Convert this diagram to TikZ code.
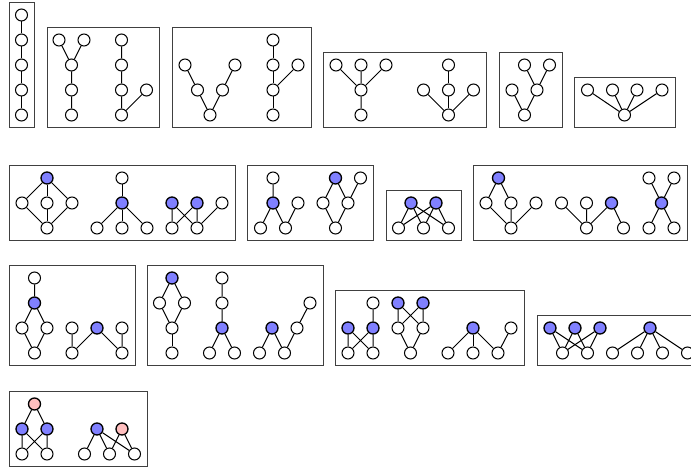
\documentclass[tikz,border=0pt]{standalone}
\begin{document}
\begin{tikzpicture}[x=0.5pt, y=-0.5pt, line width=0.5pt,
    vtx/.style={circle, draw, fill=white, inner sep=0pt, minimum size=6pt},
    bvtx/.style={vtx, fill=blue!50, line width=0.65pt},
    pvtx/.style={vtx, fill=red!25, line width=0.65pt},
    frame/.style={draw=black!75}]
    \useasboundingbox (0,0) rectangle (691,470);

    \draw[frame] (9,2.5) rectangle (34,127.5);
    \node[vtx] (a1) at (21.5,15) {};
    \node[vtx] (a2) at (21.5,40) {};
    \node[vtx] (a3) at (21.5,65) {};
    \node[vtx] (a4) at (21.5,90) {};
    \node[vtx] (a5) at (21.5,115) {};
    \draw (a1)--(a2)--(a3)--(a4)--(a5);

    \draw[frame] (47,27.5) rectangle (159,127.5);
    \node[vtx] (b1) at (59,40) {};
    \node[vtx] (b2) at (84,40) {};
    \node[vtx] (b3) at (71.5,65) {};
    \node[vtx] (b4) at (71.5,90) {};
    \node[vtx] (b5) at (71.5,115) {};
    \draw (b1)--(b3)--(b4)--(b5);
    \draw (b2)--(b3);
    \node[vtx] (b6) at (121.5,40) {};
    \node[vtx] (b7) at (121.5,65) {};
    \node[vtx] (b8) at (121.5,90) {};
    \node[vtx] (b9) at (121.5,115) {};
    \node[vtx] (b10) at (146.5,90) {};
    \draw (b6)--(b7)--(b8)--(b9)--(b10);

    \draw[frame] (172.5,27.5) rectangle (311,127.5);
    \node[vtx] (c1) at (185,65) {};
    \node[vtx] (c2) at (197.5,90) {};
    \node[vtx] (c3) at (210,115) {};
    \node[vtx] (c4) at (222.5,90) {};
    \node[vtx] (c5) at (235,65) {};
    \draw (c1)--(c2)--(c3)--(c4)--(c5);
    \node[vtx] (c6) at (273,40) {};
    \node[vtx] (c7) at (273,65) {};
    \node[vtx] (c8) at (273,90) {};
    \node[vtx] (c9) at (273,115) {};
    \node[vtx] (c10) at (298,65) {};
    \draw (c6)--(c7)--(c8)--(c9);
    \draw (c8)--(c10);

    \draw[frame] (323.5,52.5) rectangle (486.5,127.5);
    \node[vtx] (d1) at (336,65) {};
    \node[vtx] (d2) at (361,65) {};
    \node[vtx] (d3) at (386,65) {};
    \node[vtx] (d4) at (361,90) {};
    \node[vtx] (d5) at (361,115) {};
    \draw (d1)--(d4)--(d5);
    \draw (d2)--(d4)--(d3);
    \node[vtx] (d6) at (448.5,65) {};
    \node[vtx] (d7) at (423.5,90) {};
    \node[vtx] (d8) at (448.5,90) {};
    \node[vtx] (d9) at (473.5,90) {};
    \node[vtx] (d10) at (448.5,115) {};
    \draw (d6)--(d8)--(d10);
    \draw (d7)--(d10)--(d9);

    \draw[frame] (499.5,52.5) rectangle (562.5,127.5);
    \node[vtx] (e1) at (524.5,65) {};
    \node[vtx] (e2) at (549.5,65) {};
    \node[vtx] (e3) at (512,90) {};
    \node[vtx] (e4) at (537,90) {};
    \node[vtx] (e5) at (524.5,115) {};
    \draw (e1)--(e4)--(e2);
    \draw (e3)--(e5)--(e4);

    \draw[frame] (574.5,77.5) rectangle (675,127.5);
    \node[vtx] (f1) at (587.5,90) {};
    \node[vtx] (f2) at (612.5,90) {};
    \node[vtx] (f3) at (637,90) {};
    \node[vtx] (f4) at (662,90) {};
    \node[vtx] (f5) at (624.5,115) {};
    \draw (f1)--(f5)--(f2);
    \draw (f3)--(f5)--(f4);

    \draw[frame] (9,165.5) rectangle (235,240.5);
    \node[bvtx] (g1) at (47,178) {};
    \node[vtx] (g2) at (22,203) {};
    \node[vtx] (g3) at (47,203) {};
    \node[vtx] (g4) at (72,203) {};
    \node[vtx] (g5) at (47,228) {};
    \draw (g1)--(g2)--(g5)--(g4)--(g1);
    \draw (g1)--(g3)--(g5);
    \node[vtx] (g6) at (122,178) {};
    \node[bvtx] (g7) at (122,203) {};
    \node[vtx] (g8) at (97,228) {};
    \node[vtx] (g9) at (122,228) {};
    \node[vtx] (g10) at (147,228) {};
    \draw (g6)--(g7)--(g9);
    \draw (g8)--(g7)--(g10);
    \node[bvtx] (g11) at (172,203) {};
    \node[bvtx] (g12) at (197,203) {};
    \node[vtx] (g13) at (222,203) {};
    \node[vtx] (g14) at (172,228) {};
    \node[vtx] (g15) at (197,228) {};
    \draw (g11)--(g14)--(g12)--(g15)--(g11);
    \draw (g13)--(g15);

    \draw[frame] (247.5,165.5) rectangle (373.5,240.5);
    \node[vtx] (h1) at (273,178) {};
    \node[bvtx] (h2) at (273,203) {};
    \node[vtx] (h3) at (298,203) {};
    \node[vtx] (h4) at (260.5,228) {};
    \node[vtx] (h5) at (285.5,228) {};
    \draw (h1)--(h2)--(h4);
    \draw (h2)--(h5)--(h3);
    \node[bvtx] (h6) at (335.5,178) {};
    \node[vtx] (h7) at (360.5,178) {};
    \node[vtx] (h8) at (323,203) {};
    \node[vtx] (h9) at (348,203) {};
    \node[vtx] (h10) at (335.5,228) {};
    \draw (h6)--(h8)--(h10)--(h9)--(h6);
    \draw (h7)--(h9);

    \draw[frame] (386,190.5) rectangle (461.5,240.5);
    \node[bvtx] (i1) at (411,203) {};
    \node[bvtx] (i2) at (436,203) {};
    \node[vtx] (i3) at (398.5,228) {};
    \node[vtx] (i4) at (423.5,228) {};
    \node[vtx] (i5) at (448.5,228) {};
    \draw (i3)--(i1)--(i4)--(i2)--(i5)--(i1);
    \draw (i3)--(i2);

    \draw[frame] (473.5,165.5) rectangle (687,240.5);
    \node[bvtx] (j1) at (498.5,178) {};
    \node[vtx] (j2) at (486,203) {};
    \node[vtx] (j3) at (511,203) {};
    \node[vtx] (j4) at (536,203) {};
    \node[vtx] (j5) at (511,228) {};
    \draw (j1)--(j2)--(j5)--(j3)--(j1);
    \draw (j4)--(j5);
    \node[vtx] (j6) at (561.5,203) {};
    \node[vtx] (j7) at (586.5,203) {};
    \node[bvtx] (j8) at (611.5,203) {};
    \node[vtx] (j9) at (586.5,228) {};
    \node[vtx] (j10) at (623.5,228) {};
    \draw (j6)--(j9)--(j7);
    \draw (j9)--(j8)--(j10);
    \node[vtx] (j11) at (649,178) {};
    \node[vtx] (j12) at (674,178) {};
    \node[bvtx] (j13) at (661.5,203) {};
    \node[vtx] (j14) at (649,228) {};
    \node[vtx] (j15) at (674,228) {};
    \draw (j11)--(j13)--(j15);
    \draw (j12)--(j13)--(j14);

    \draw[frame] (9,265.5) rectangle (135,365.5);
    \node[vtx] (k1) at (34.5,278) {};
    \node[bvtx] (k2) at (34.5,303) {};
    \node[vtx] (k3) at (22,328) {};
    \node[vtx] (k4) at (47,328) {};
    \node[vtx] (k5) at (34.5,353) {};
    \draw (k1)--(k2)--(k3)--(k5)--(k4)--(k2);
    \node[vtx] (k6) at (72,328) {};
    \node[bvtx] (k7) at (97,328) {};
    \node[vtx] (k8) at (122,328) {};
    \node[vtx] (k9) at (72,353) {};
    \node[vtx] (k10) at (122,353) {};
    \draw (k6)--(k9)--(k7)--(k10)--(k8);

    \draw[frame] (147,265.5) rectangle (323,365.5);
    \node[bvtx] (l1) at (172,278) {};
    \node[vtx] (l2) at (159.5,303) {};
    \node[vtx] (l3) at (184.5,303) {};
    \node[vtx] (l4) at (172,328) {};
    \node[vtx] (l5) at (172,353) {};
    \draw (l1)--(l2)--(l4)--(l3)--(l1);
    \draw (l4)--(l5);
    \node[vtx] (l6) at (222,278) {};
    \node[vtx] (l7) at (222,303) {};
    \node[bvtx] (l8) at (222,328) {};
    \node[vtx] (l9) at (209.5,353) {};
    \node[vtx] (l10) at (234.5,353) {};
    \draw (l6)--(l7)--(l8)--(l9);
    \draw (l8)--(l10);
    \node[bvtx] (l11) at (272,328) {};
    \node[vtx] (l12) at (297,328) {};
    \node[vtx] (l13) at (310,303) {};
    \node[vtx] (l14) at (259.5,353) {};
    \node[vtx] (l15) at (284.5,353) {};
    \draw (l14)--(l11)--(l15)--(l12)--(l13);

    \draw[frame] (335.5,290.5) rectangle (524,365.5);
    \node[vtx] (m1) at (373,303) {};
    \node[bvtx] (m2) at (348,328) {};
    \node[bvtx] (m3) at (373,328) {};
    \node[vtx] (m4) at (348,353) {};
    \node[vtx] (m5) at (373,353) {};
    \draw (m1)--(m3)--(m5)--(m2)--(m4)--(m3);
    \node[bvtx] (m6) at (398,303) {};
    \node[bvtx] (m7) at (423,303) {};
    \node[vtx] (m8) at (398,328) {};
    \node[vtx] (m9) at (423,328) {};
    \node[vtx] (m10) at (410.5,353) {};
    \draw (m6)--(m8)--(m7)--(m9)--(m6);
    \draw (m8)--(m10)--(m9);
    \node[bvtx] (m11) at (473,328) {};
    \node[vtx] (m12) at (511,328) {};
    \node[vtx] (m13) at (448,353) {};
    \node[vtx] (m14) at (473,353) {};
    \node[vtx] (m15) at (498,353) {};
    \draw (m13)--(m11)--(m15)--(m12);
    \draw (m11)--(m14);

    \draw[frame] (537,315.5) rectangle (700,365.5);
    \node[bvtx] (n1) at (550,328) {};
    \node[bvtx] (n2) at (575,328) {};
    \node[bvtx] (n3) at (600,328) {};
    \node[vtx] (n4) at (562.5,353) {};
    \node[vtx] (n5) at (587.5,353) {};
    \draw (n1)--(n4)--(n2)--(n5)--(n1);
    \draw (n4)--(n3)--(n5);
    \node[bvtx] (n6) at (650,328) {};
    \node[vtx] (n7) at (612.5,353) {};
    \node[vtx] (n8) at (637.5,353) {};
    \node[vtx] (n9) at (662.5,353) {};
    \node[vtx] (n10) at (687.5,353) {};
    \draw (n7)--(n6)--(n8);
    \draw (n9)--(n6)--(n10);

    \draw[frame] (9,391) rectangle (147,466.5);
    \node[pvtx] (o1) at (34.5,404) {};
    \node[bvtx] (o2) at (22,429) {};
    \node[bvtx] (o3) at (47,429) {};
    \node[vtx] (o4) at (22,454) {};
    \node[vtx] (o5) at (47,454) {};
    \draw (o2)--(o1)--(o3);
    \draw (o2)--(o4)--(o3)--(o5)--(o2);
    \node[bvtx] (o6) at (97,429) {};
    \node[pvtx] (o7) at (122,429) {};
    \node[vtx] (o8) at (84.5,454) {};
    \node[vtx] (o9) at (109.5,454) {};
    \node[vtx] (o10) at (134.5,454) {};
    \draw (o8)--(o6)--(o9)--(o7)--(o10)--(o6);
\end{tikzpicture}
\end{document}
